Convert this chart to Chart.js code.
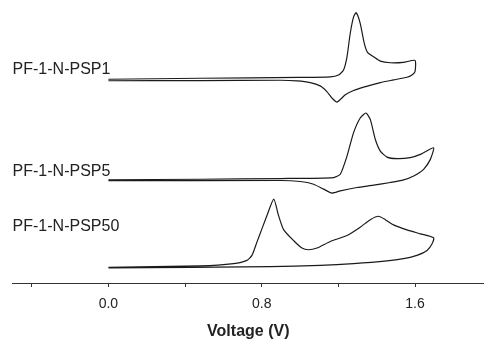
<!DOCTYPE html>
<html>
<head>
<meta charset="utf-8">
<script src="https://cdn.jsdelivr.net/npm/chart.js@4/dist/chart.umd.min.js"></script>
<style>
  html, body { margin: 0; padding: 0; background: #fff; }
  #wrap { width: 484px; height: 341px; position: relative; }
</style>
</head>
<body>
<div id="wrap"><canvas id="myChart"></canvas></div>
<script>
// series names (drawn as labels next to each curve)
const seriesNames = ['PF-1-N-PSP1', 'PF-1-N-PSP5', 'PF-1-N-PSP50'];

// voltage (V) for each recorded point, forward scan then reverse scan
const voltPSP1 = [0.00, 0.48, 1.00, 1.158, 1.201, 1.227, 1.245, 1.262, 1.279, 1.293, 1.314, 1.335, 1.352, 1.384, 1.419, 1.471, 1.540, 1.60,
                  1.60, 1.584, 1.558, 1.488, 1.419, 1.332, 1.279, 1.236, 1.193, 1.167, 1.140, 1.105, 1.053, 0.984, 0.897, 0.48, 0.00];
// current (a.u., stacked with offset)
const currPSP1 = [205.2, 206.2, 207, 207.5, 209.5, 214.5, 227.8, 251.5, 267.8, 272.2, 261.5, 241.5, 232.2, 227.8, 223.5, 221.8, 222.2, 224.2,
                  212.8, 209.5, 207.2, 204.5, 201.8, 197.2, 193.8, 189.5, 182.2, 186.2, 192.8, 198.5, 201.8, 203.5, 204.2, 203.9, 203.7];

const voltPSP5 = [0.00, 0.48, 0.897, 1.175, 1.210, 1.245, 1.279, 1.314, 1.344, 1.367, 1.393, 1.419, 1.454, 1.506, 1.575, 1.628, 1.697,
                  1.680, 1.645, 1.593, 1.540, 1.471, 1.384, 1.297, 1.210, 1.167, 1.123, 1.071, 1.001, 0.897, 0.00];
const currPSP5 = [104, 104.5, 105.2, 106.2, 109.5, 127.8, 151.2, 166.2, 171.2, 164.5, 144.5, 132.8, 126.8, 125.2, 126.2, 129.5, 136.2,
                  124.5, 114.5, 107.8, 103.8, 101.2, 98.5, 96.2, 92.8, 90.5, 94.5, 99.5, 102.2, 103.2, 103];

const voltPSP50 = [0.00, 0.48, 0.653, 0.723, 0.749, 0.775, 0.801, 0.827, 0.863, 0.888, 0.914, 0.966, 1.010, 1.044, 1.088, 1.158, 1.245, 1.314, 1.367, 1.410, 1.445, 1.488, 1.558, 1.628, 1.697,
                   1.689, 1.663, 1.610, 1.540, 1.454, 1.279, 1.105, 0.844, 0.00];
const currPSP50 = [15.8, 17.2, 19.5, 22.8, 27.8, 41.2, 54.5, 67.8, 84.5, 67.8, 53.8, 42.8, 35.2, 33.5, 35.2, 41.8, 47.8, 56.2, 63.8, 67.2, 63.8, 58.5, 53.5, 49.5, 45.5,
                   39.5, 32.8, 27.8, 24.5, 22.2, 19.5, 17.8, 16.5, 15.2];

// where each series name sits (current level, a.u.)
const labelLevels = [214.5, 112, 57];

// x axis ticks: labelled majors and unlabelled minors
const xTicks = [-0.4, 0.0, 0.4, 0.8, 1.2, 1.6];
const xTickLabels = ['', '0.0', '', '0.8', '', '1.6'];

const pairs = (xs, ys) => xs.map((x, i) => ({ x: x, y: ys[i] }));

const lineStyle = {
    borderColor: '#1a1a1a',
    borderWidth: 1.2,
    pointRadius: 0,
    tension: 0.2,
    fill: false
};

const curveLabels = {
    id: 'curveLabels',
    afterDatasetsDraw(chart) {
        const c = chart.ctx;
        const xs = chart.scales.x, ys = chart.scales.y;
        c.save();
        c.font = '16px "Liberation Sans", Arial, sans-serif';
        c.fillStyle = '#222';
        c.textAlign = 'left';
        c.textBaseline = 'middle';
        seriesNames.forEach((name, i) => {
            c.fillText(name, xs.left, ys.getPixelForValue(labelLevels[i]));
        });
        c.restore();
    }
};

const ctx = document.getElementById('myChart').getContext('2d');
const myChart = new Chart(ctx, {
    type: 'line',
    data: {
        datasets: [
            { label: seriesNames[0], data: pairs(voltPSP1, currPSP1), ...lineStyle },
            { label: seriesNames[1], data: pairs(voltPSP5, currPSP5), ...lineStyle },
            { label: seriesNames[2], data: pairs(voltPSP50, currPSP50), ...lineStyle }
        ]
    },
    options: {
        responsive: true,
        maintainAspectRatio: false,
        animation: false,
        layout: { padding: { left: 12.6, right: 0, top: 0, bottom: 0 } },
        plugins: {
            legend: { display: false },
            tooltip: { enabled: false }
        },
        scales: {
            x: {
                type: 'linear',
                min: -0.5,
                max: 1.96,
                afterBuildTicks: (axis) => { axis.ticks = xTicks.map(v => ({ value: v })); },
                ticks: {
                    autoSkip: false,
                    maxRotation: 0,
                    padding: 9,
                    color: '#222',
                    font: { family: '"Liberation Sans", Arial, sans-serif', size: 14 },
                    callback: (v) => {
                        const i = xTicks.findIndex(t => Math.abs(t - v) < 1e-6);
                        return i >= 0 ? xTickLabels[i] : '';
                    }
                },
                grid: {
                    display: true,
                    drawOnChartArea: false,
                    drawTicks: true,
                    tickLength: 4,
                    tickColor: '#333',
                    tickWidth: 1
                },
                border: { display: true, color: '#333', width: 1 },
                title: {
                    display: true,
                    text: 'Voltage (V)',
                    color: '#222',
                    font: { family: '"Liberation Sans", Arial, sans-serif', size: 16, weight: 'bold' },
                    padding: { top: 0, bottom: 0 }
                }
            },
            y: {
                type: 'linear',
                display: false,
                min: 0,
                max: 285
            }
        }
    },
    plugins: [curveLabels]
});
</script>
</body>
</html>
